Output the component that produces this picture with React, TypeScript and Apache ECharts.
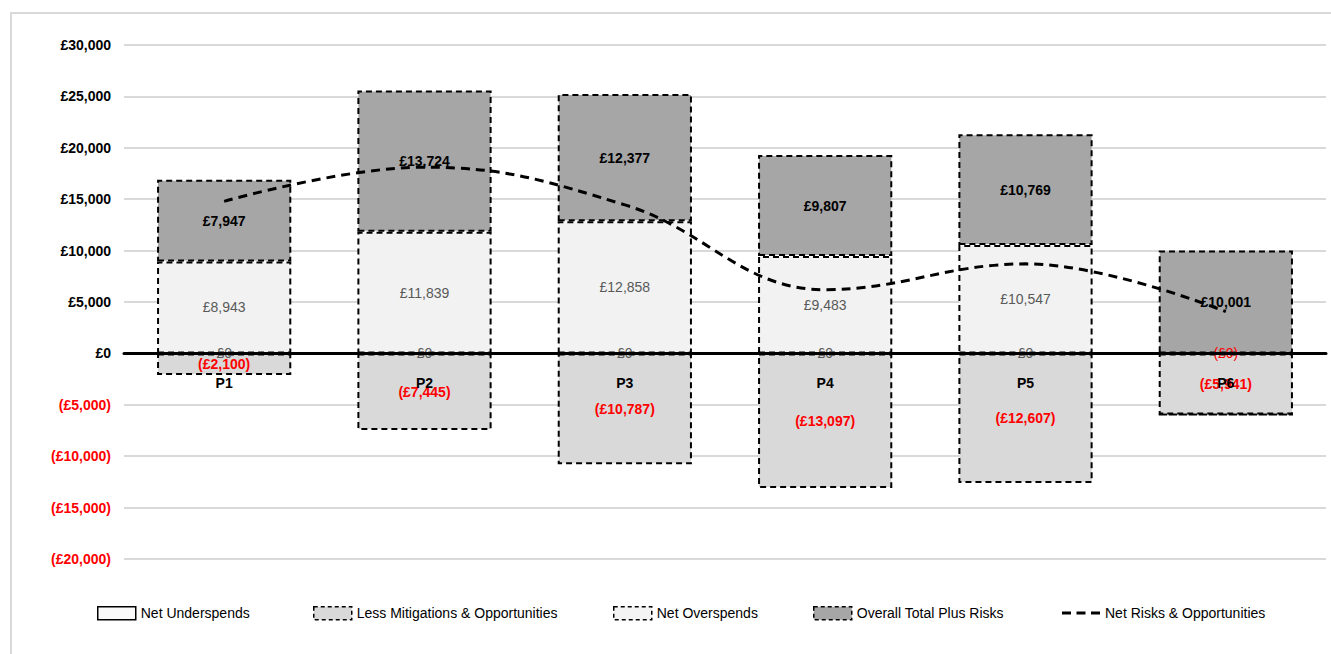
import React, { useEffect, useRef } from "react";
import * as echarts from "echarts";

const categories = ["P1", "P2", "P3", "P4", "P5", "P6"];
const netUnderspends = [0, 0, 0, 0, 0, -0.3];
const lessMitigations = [-2100, -7445, -10787, -13097, -12607, -5941];
const netOverspends = [8943, 11839, 12858, 9483, 10547, 0];
const overallTotalPlusRisks = [7947, 13724, 12377, 9807, 10769, 10001];
const netRisksOpportunities = [14790, 18118, 14448, 6193, 8709, 4061];
const yMin = -20000;
const yMax = 30000;
const yStep = 5000;

const FONT = "'Liberation Sans', Arial, sans-serif";
const FS = 14;

function money(v: number): string {
  const s = "£" + Math.round(Math.abs(v)).toLocaleString("en-GB");
  return v < 0 ? "(" + s + ")" : s;
}

export default function App() {
  const ref = useRef<HTMLDivElement>(null);
  useEffect(() => {
    if (!ref.current) return;
    const chart = echarts.init(ref.current, null, { renderer: "svg" });
    const gridTop = 45;
    const gridBottom = 95;
    const plotH = 654 - gridTop - gridBottom;
    const zeroFromBottom = (plotH * (0 - yMin)) / (yMax - yMin);
    const dash = [6, 4];
    const dashBorder = { borderColor: "#000", borderWidth: 2, borderType: dash as any };
    const labelRich = (posColor: string, posWeight: any, negWeight: any) => ({
      pos: { color: posColor, fontWeight: posWeight, fontSize: FS, fontFamily: FONT },
      neg: { color: "#ff0000", fontWeight: negWeight, fontSize: FS, fontFamily: FONT },
    });
    const fmt = (hideZero: boolean) => (p: any) => {
      const v = p.value as number;
      if (hideZero && v === 0) return "";
      return v < 0 ? "{neg|" + money(v) + "}" : "{pos|" + money(v) + "}";
    };
    const legendBase = {
      top: 601,
      itemWidth: 38,
      itemHeight: 13,
      itemGap: 4,
      textStyle: { fontSize: FS, fontFamily: FONT, color: "#000" },
      selectedMode: false as any,
    };
    const dashedIcon = (fill: string) => ({
      icon: "rect",
      itemStyle: { color: fill, borderColor: "#000", borderWidth: 1.5, borderType: [4, 3] as any },
    });
    chart.setOption({
      animation: false,
      backgroundColor: "#fff",
      textStyle: { fontFamily: FONT },
      graphic: [
        {
          type: "rect",
          shape: { x: 11, y: 13, width: 1340, height: 660 },
          style: { fill: "none", stroke: "#d9d9d9", lineWidth: 2 },
          silent: true,
        },
      ],
      legend: [
        {
          ...legendBase,
          left: 92,
          data: [
            {
              name: "Net Underspends",
              icon: "rect",
              itemStyle: { color: "#fafafa", borderColor: "#000", borderWidth: 1.5, borderType: "solid" },
            },
          ],
        },
        { ...legendBase, left: 308, data: [{ name: "Less Mitigations & Opportunities", ...dashedIcon("#d9d9d9") }] },
        { ...legendBase, left: 608, data: [{ name: "Net Overspends", ...dashedIcon("#f4f4f4") }] },
        { ...legendBase, left: 808, data: [{ name: "Overall Total Plus Risks", ...dashedIcon("#a6a6a6") }] },
        {
          ...legendBase,
          left: 1057,
          itemHeight: 3,
          top: 601,
          data: [
            {
              name: "Net Risks & Opportunities",
              icon: "path://M0,0 h9 v3 h-9z M14.5,0 h9 v3 h-9z M29,0 h9 v3 h-9z",
              itemStyle: { color: "#000", borderWidth: 0 },
            },
          ],
        },
      ],
      grid: { left: 124, right: 5, top: gridTop, bottom: gridBottom },
      xAxis: [
        {
          type: "category",
          data: categories,
          axisLine: { onZero: true, lineStyle: { color: "#000", width: 3 } },
          axisTick: { show: false },
          axisLabel: { show: false },
          z: 5,
        },
        {
          type: "category",
          data: categories,
          position: "bottom",
          offset: -zeroFromBottom,
          axisLine: { show: false, onZero: false },
          axisTick: { show: false },
          axisLabel: { fontSize: FS, fontWeight: "bold", color: "#000", margin: 23, fontFamily: FONT },
          z: 6,
        },
      ],
      yAxis: {
        type: "value",
        min: yMin,
        max: yMax,
        interval: yStep,
        axisLine: { show: false },
        axisTick: { show: false },
        splitLine: { lineStyle: { color: "#d9d9d9", width: 2 } },
        axisLabel: {
          fontSize: FS,
          fontWeight: "bold",
          fontFamily: FONT,
          margin: 13,
          formatter: (v: number) => money(v),
          color: (v: any) => (Number(v) < 0 ? "#ff0000" : "#000"),
        },
      },
      series: [
        {
          name: "Net Underspends",
          type: "bar",
          stack: "total",
          barCategoryGap: "33%",
          data: netUnderspends,
          itemStyle: { color: "#f7f7f7", borderColor: "#000", borderWidth: 1.5 },
          label: { show: true, position: "inside", formatter: fmt(false), rich: labelRich("#595959", "normal", "normal") },
        },
        {
          name: "Less Mitigations & Opportunities",
          type: "bar",
          stack: "total",
          data: lessMitigations,
          itemStyle: { color: "#d9d9d9", ...dashBorder },
          label: { show: true, position: "inside", formatter: fmt(false), rich: labelRich("#ff0000", "bold", "bold") },
        },
        {
          name: "Net Overspends",
          type: "bar",
          stack: "total",
          data: netOverspends,
          itemStyle: { color: "#f2f2f2", ...dashBorder },
          label: { show: true, position: "inside", formatter: fmt(true), rich: labelRich("#595959", "normal", "normal") },
        },
        {
          name: "Overall Total Plus Risks",
          type: "bar",
          stack: "total",
          data: overallTotalPlusRisks,
          itemStyle: { color: "#a6a6a6", ...dashBorder },
          label: { show: true, position: "inside", formatter: fmt(false), rich: labelRich("#000", "bold", "bold") },
        },
        {
          name: "Net Risks & Opportunities",
          type: "line",
          data: netRisksOpportunities,
          smooth: 0.4,
          symbol: "none",
          z: 4,
          lineStyle: { color: "#000", width: 3, type: [9, 6] as any },
          itemStyle: { color: "#000" },
        },
      ],
    });
    return () => chart.dispose();
  }, []);
  return (
    <div
      ref={ref}
      style={{ position: "fixed", left: 0, top: 0, width: 1331, height: 654, background: "#fff" }}
    />
  );
}
